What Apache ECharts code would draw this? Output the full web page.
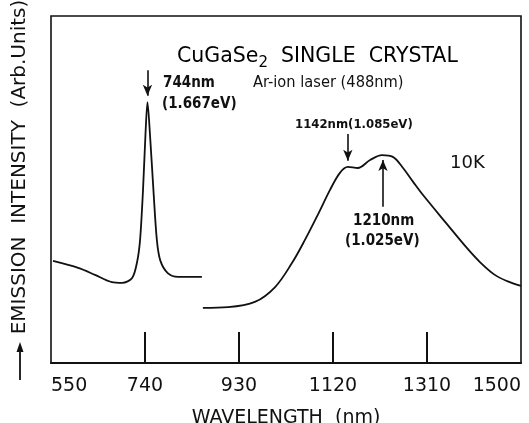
<!DOCTYPE html>
<html>
<head>
<meta charset="utf-8">
<script src="https://cdn.jsdelivr.net/npm/echarts@6/dist/echarts.min.js"></script>
<style>html,body{margin:0;padding:0;background:#fff;}#c{width:529px;height:423px;}</style>
</head>
<body>
<div id="c"></div>
<script>
// Wavelength (nm) ticks and labels
var tickValues = [740, 930, 1120, 1310];
var labelValues = [550, 740, 930, 1120, 1310, 1500];

// Segment 1: band-edge region with the 744 nm peak  [wavelength, intensity (arb.)]
var segment1 = [
  [554, 29.4], [605, 27.4], [639, 25.4], [673, 23.3], [694, 23.1], [714, 24.5],
  [724, 29.1], [730, 35.4], [736, 49.9], [741, 66.0], [745, 75.2], [750, 66.0],
  [757, 49.9], [764, 35.4], [771, 29.5], [786, 25.9], [807, 24.8], [855, 24.8]
];

// Segment 2: broad deep-level band (1142 nm shoulder, 1210 nm peak)
var segment2 = [
  [857, 15.9], [908, 16.1], [962, 17.6], [1003, 21.9], [1037, 28.8], [1063, 35.4],
  [1092, 43.5], [1114, 49.9], [1134, 54.8], [1150, 56.5], [1170, 56.2], [1195, 58.5],
  [1219, 59.9], [1241, 59.4], [1260, 56.5], [1282, 52.2], [1302, 48.4], [1350, 40.1],
  [1391, 33.1], [1417, 29.1], [1447, 25.4], [1472, 23.6], [1500, 22.2]
];

// Annotation arrows: [x, from, to]
var arrow744 = [745, 84.4, 77.0];
var arrow1142 = [1150, 66.0, 58.3];
var arrow1210 = [1221, 45.0, 58.5];

var FONT = '"DejaVu Sans", sans-serif';
var COND = '"DejaVu Sans Condensed", "DejaVu Sans", sans-serif';
var chart = echarts.init(document.getElementById('c'), null, {renderer: 'canvas'});

function arrowLine(a) {
  return {
    silent: true,
    symbol: ['none', 'arrow'],
    symbolSize: [7, 11],
    label: {show: false},
    lineStyle: {color: '#111', width: 1.6, type: 'solid'},
    data: [[{coord: [a[0], a[1]]}, {coord: [a[0], a[2]]}]]
  };
}

chart.setOption({
  animation: false,
  backgroundColor: '#fff',
  grid: {left: 51, right: 8, top: 16, bottom: 60, show: true, borderColor: '#111', borderWidth: 1.6,
         outerBoundsMode: 'none', containLabel: false},
  xAxis: {
    type: 'value', min: 550, max: 1500,
    name: 'WAVELENGTH  (nm)', nameLocation: 'middle', nameGap: 46,
    nameTextStyle: {fontFamily: FONT, fontSize: 19, color: '#111'},
    axisLine: {show: true, lineStyle: {color: '#111', width: 2}},
    axisTick: {show: true, inside: true, length: 31, lineStyle: {color: '#111', width: 2}, customValues: tickValues},
    axisLabel: {show: true, margin: 14, fontFamily: FONT, fontSize: 19, color: '#111',
      customValues: labelValues, alignMinLabel: 'left', alignMaxLabel: 'right',
      formatter: function (v) { return String(v); }},
    splitLine: {show: false}
  },
  yAxis: {type: 'value', min: 0, max: 100, show: false},
  series: [
    {type: 'line', data: segment1, smooth: 0.3, symbol: 'none',
     lineStyle: {color: '#111', width: 1.8}, markLine: arrowLine(arrow744)},
    {type: 'line', data: segment2, smooth: 0.35, symbol: 'none',
     lineStyle: {color: '#111', width: 1.8}},
    {type: 'line', data: [], markLine: arrowLine(arrow1142)},
    {type: 'line', data: [], markLine: arrowLine(arrow1210)}
  ],
  graphic: [
    {type: 'text', x: 20, y: 167, rotation: Math.PI / 2,
     style: {text: 'EMISSION  INTENSITY  (Arb.Units)', font: '20px ' + FONT, fill: '#111',
       textAlign: 'center', textVerticalAlign: 'middle'}},
    {type: 'line', shape: {x1: 20, y1: 380, x2: 20, y2: 350}, style: {stroke: '#111', lineWidth: 1.8}},
    {type: 'polygon', shape: {points: [[20, 342], [16.5, 352], [23.5, 352]]}, style: {fill: '#111'}},
    {type: 'text', x: 177, y: 57,
     style: {text: '{a|CuGaSe}{s|2}{a|  SINGLE  CRYSTAL}', textVerticalAlign: 'middle',
       rich: {a: {fontFamily: FONT, fontSize: 20.5, color: '#111'},
              s: {fontFamily: FONT, fontSize: 15, color: '#111', padding: [12, 0, 0, 0]}}}},
    {type: 'text', x: 163, y: 83, style: {text: '744nm', font: 'bold 15px ' + COND, fill: '#111', textVerticalAlign: 'middle'}},
    {type: 'text', x: 162, y: 104, style: {text: '(1.667eV)', font: 'bold 15px ' + COND, fill: '#111', textVerticalAlign: 'middle'}},
    {type: 'text', x: 253, y: 83, style: {text: 'Ar-ion laser (488nm)', font: '16.3px ' + COND, fill: '#111', textVerticalAlign: 'middle'}},
    {type: 'text', x: 295, y: 125, style: {text: '1142nm(1.085eV)', font: 'bold 13px ' + COND, fill: '#111', textVerticalAlign: 'middle'}},
    {type: 'text', x: 450, y: 163, style: {text: '10K', font: '18px ' + FONT, fill: '#111', textVerticalAlign: 'middle'}},
    {type: 'text', x: 353, y: 221, style: {text: '1210nm', font: 'bold 15px ' + COND, fill: '#111', textVerticalAlign: 'middle'}},
    {type: 'text', x: 345, y: 241, style: {text: '(1.025eV)', font: 'bold 15px ' + COND, fill: '#111', textVerticalAlign: 'middle'}}
  ]
});
</script>
</body>
</html>
